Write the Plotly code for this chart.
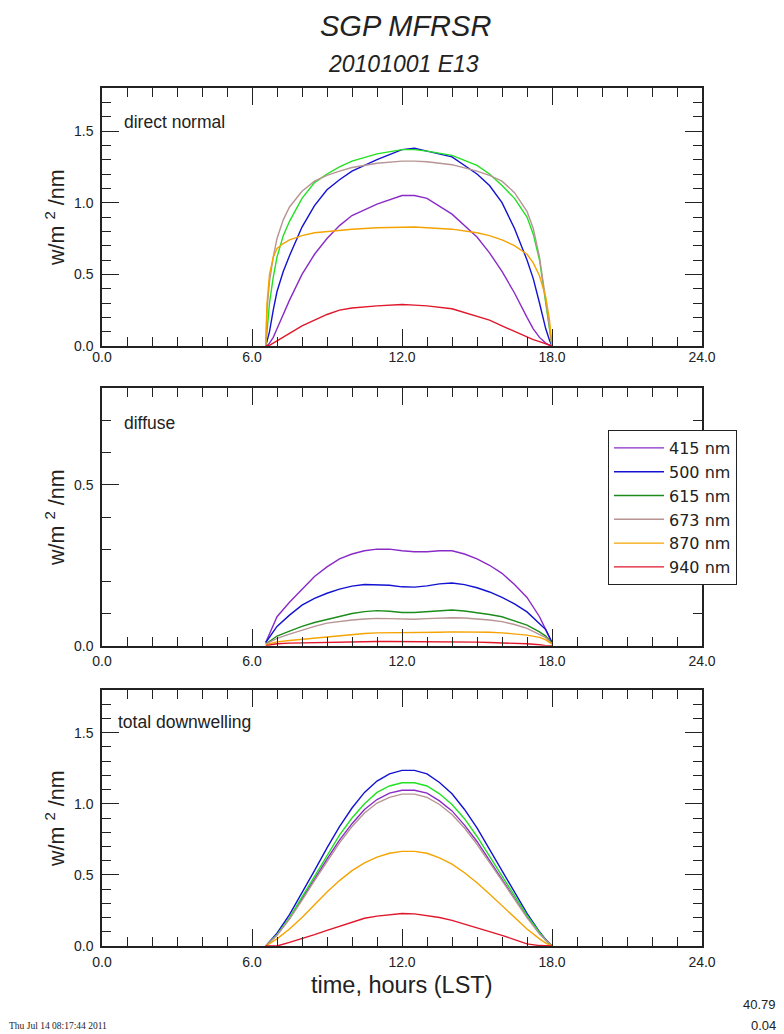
import plotly.graph_objects as go

W, H = 784, 1034

# ---------------- data ----------------
WAVELENGTHS = ["415 nm", "500 nm", "615 nm", "673 nm", "870 nm", "940 nm"]

# direct normal
T_DIRECT = [6.55, 6.6, 6.7, 6.85, 7.0, 7.25, 7.5, 8.0, 8.5, 9.0, 9.5, 10.0, 11.0, 12.0,
            12.5, 13.0, 14.0, 15.0, 15.5, 16.0, 16.5, 17.0, 17.25, 17.5, 17.75, 17.9, 18.0]
DIRECT_415 = [0, 0.0, 0.02, 0.06, 0.12, 0.22, 0.32, 0.50, 0.64, 0.75, 0.84, 0.91, 0.99, 1.05,
              1.05, 1.03, 0.92, 0.76, 0.65, 0.52, 0.37, 0.20, 0.12, 0.06, 0.02, 0.005, 0]
DIRECT_500 = [0, 0.03, 0.10, 0.25, 0.38, 0.52, 0.63, 0.83, 0.98, 1.09, 1.16, 1.22, 1.30, 1.37,
              1.38, 1.36, 1.32, 1.20, 1.12, 1.00, 0.82, 0.60, 0.47, 0.30, 0.12, 0.04, 0]
DIRECT_615 = [0, 0.12, 0.30, 0.48, 0.62, 0.77, 0.87, 1.03, 1.14, 1.20, 1.25, 1.29, 1.34, 1.37,
              1.37, 1.36, 1.33, 1.26, 1.20, 1.12, 1.03, 0.90, 0.78, 0.60, 0.32, 0.12, 0]
DIRECT_673 = [0, 0.25, 0.45, 0.62, 0.75, 0.88, 0.97, 1.08, 1.15, 1.19, 1.22, 1.245, 1.275, 1.29,
              1.29, 1.285, 1.265, 1.22, 1.19, 1.15, 1.07, 0.94, 0.82, 0.62, 0.32, 0.12, 0]
DIRECT_870 = [0, 0.30, 0.50, 0.62, 0.68, 0.715, 0.74, 0.77, 0.79, 0.80, 0.81, 0.815, 0.825, 0.83,
              0.83, 0.825, 0.815, 0.79, 0.77, 0.74, 0.70, 0.64, 0.58, 0.49, 0.34, 0.18, 0]
DIRECT_940 = [0, 0, 0.005, 0.02, 0.035, 0.06, 0.09, 0.14, 0.18, 0.22, 0.25, 0.265, 0.28, 0.29,
              0.285, 0.28, 0.26, 0.21, 0.18, 0.14, 0.10, 0.065, 0.045, 0.03, 0.015, 0.005, 0]

# diffuse
T_DIFFUSE = [6.55, 7.0, 7.5, 8.0, 8.5, 9.0, 9.5, 10.0, 10.5, 11.0, 11.5, 12.0, 12.5, 13.0,
             13.5, 14.0, 14.5, 15.0, 15.5, 16.0, 16.5, 17.0, 17.5, 17.75, 18.0]
DIFFUSE_415 = [0.01, 0.09, 0.135, 0.175, 0.215, 0.245, 0.27, 0.285, 0.295, 0.30, 0.30, 0.295, 0.292,
               0.292, 0.295, 0.295, 0.285, 0.27, 0.25, 0.225, 0.19, 0.15, 0.09, 0.05, 0.01]
DIFFUSE_500 = [0.01, 0.06, 0.095, 0.126, 0.147, 0.163, 0.176, 0.185, 0.19, 0.19, 0.188, 0.183, 0.182,
               0.186, 0.192, 0.195, 0.19, 0.18, 0.167, 0.15, 0.13, 0.105, 0.07, 0.05, 0.01]
DIFFUSE_615 = [0.005, 0.03, 0.045, 0.06, 0.072, 0.082, 0.092, 0.10, 0.106, 0.109, 0.107, 0.103, 0.103,
               0.106, 0.109, 0.111, 0.108, 0.103, 0.097, 0.09, 0.078, 0.064, 0.043, 0.03, 0.008]
DIFFUSE_673 = [0.005, 0.023, 0.036, 0.049, 0.06, 0.07, 0.076, 0.08, 0.083, 0.085, 0.084, 0.082, 0.082,
               0.084, 0.086, 0.087, 0.086, 0.084, 0.08, 0.075, 0.066, 0.054, 0.036, 0.025, 0.006]
DIFFUSE_870 = [0.003, 0.012, 0.016, 0.02, 0.024, 0.028, 0.032, 0.036, 0.038, 0.04, 0.04, 0.04, 0.04,
               0.041, 0.042, 0.043, 0.043, 0.043, 0.042, 0.04, 0.037, 0.033, 0.026, 0.018, 0.005]
DIFFUSE_940 = [0.0, 0.006, 0.008, 0.009, 0.010, 0.011, 0.012, 0.012, 0.013, 0.013, 0.013, 0.013, 0.013,
               0.013, 0.013, 0.012, 0.012, 0.011, 0.010, 0.009, 0.008, 0.006, 0.003, 0.0, 0.0]

# total downwelling
T_TOTAL = [6.55, 7.0, 7.5, 8.0, 8.5, 9.0, 9.5, 10.0, 10.5, 11.0, 11.5, 12.0, 12.5, 13.0,
           13.5, 14.0, 14.5, 15.0, 15.5, 16.0, 16.5, 17.0, 17.5, 17.75, 18.0]
TOTAL_415 = [0, 0.08, 0.195, 0.33, 0.47, 0.61, 0.745, 0.86, 0.96, 1.03, 1.075, 1.095, 1.095,
             1.075, 1.02, 0.95, 0.85, 0.735, 0.60, 0.47, 0.335, 0.205, 0.09, 0.04, 0]
TOTAL_500 = [0, 0.09, 0.22, 0.37, 0.53, 0.69, 0.84, 0.97, 1.08, 1.16, 1.21, 1.235, 1.235,
             1.21, 1.15, 1.07, 0.96, 0.83, 0.68, 0.53, 0.38, 0.23, 0.10, 0.045, 0]
TOTAL_615 = [0, 0.08, 0.20, 0.345, 0.49, 0.64, 0.78, 0.90, 1.00, 1.08, 1.125, 1.148, 1.148,
             1.125, 1.07, 0.995, 0.895, 0.77, 0.63, 0.49, 0.355, 0.215, 0.095, 0.04, 0]
TOTAL_673 = [0, 0.075, 0.19, 0.32, 0.46, 0.595, 0.725, 0.84, 0.935, 1.005, 1.045, 1.068, 1.068,
             1.045, 0.995, 0.925, 0.83, 0.715, 0.59, 0.46, 0.33, 0.20, 0.085, 0.04, 0]
TOTAL_870 = [0, 0.05, 0.12, 0.20, 0.29, 0.38, 0.46, 0.53, 0.585, 0.625, 0.652, 0.665, 0.665,
             0.652, 0.62, 0.575, 0.515, 0.445, 0.365, 0.285, 0.20, 0.12, 0.05, 0.02, 0]
TOTAL_940 = [0, 0.0, 0.025, 0.05, 0.08, 0.11, 0.14, 0.17, 0.195, 0.21, 0.222, 0.229, 0.226,
             0.215, 0.20, 0.18, 0.155, 0.13, 0.10, 0.075, 0.045, 0.015, 0.003, 0, 0]

X_TICK_STEP = 6
X_RANGE = [0, 24]
Y_RANGE_DIRECT = [0, 1.8]
Y_RANGE_DIFFUSE = [0, 0.8]
Y_RANGE_TOTAL = [0, 1.8]

# ---------------- styling ----------------
FONT = "Liberation Sans, Arial, Helvetica, sans-serif"
LEGEND_FONT = "DejaVu Sans, Liberation Sans, sans-serif"
INK = "#222222"
COL_415 = "#8a2bc8"
COL_500 = "#1212d0"
COL_615_BRIGHT = "#22e022"
COL_615_DARK = "#1c8c1c"
COL_673 = "#b89494"
COL_870 = "#f5a300"
COL_940 = "#e0162a"

panels = [
    (T_DIRECT, [DIRECT_415, DIRECT_500, DIRECT_615, DIRECT_673, DIRECT_870, DIRECT_940],
     [COL_415, COL_500, COL_615_BRIGHT, COL_673, COL_870, COL_940], "x", "y", False),
    (T_DIFFUSE, [DIFFUSE_415, DIFFUSE_500, DIFFUSE_615, DIFFUSE_673, DIFFUSE_870, DIFFUSE_940],
     [COL_415, COL_500, COL_615_DARK, COL_673, COL_870, COL_940], "x2", "y2", True),
    (T_TOTAL, [TOTAL_415, TOTAL_500, TOTAL_615, TOTAL_673, TOTAL_870, TOTAL_940],
     [COL_415, COL_500, COL_615_BRIGHT, COL_673, COL_870, COL_940], "x3", "y3", False),
]

fig = go.Figure()
for t, series, cols, xa, ya, show in panels:
    for name, vals, c in zip(WAVELENGTHS, series, cols):
        fig.add_trace(go.Scatter(x=t, y=vals, mode="lines", name=name, xaxis=xa, yaxis=ya,
                                 line=dict(color=c, width=1.4), showlegend=show,
                                 hoverinfo="skip"))


def px_x(p):
    return p / W


def px_y(p):
    return 1 - p / H


X_DOMAIN = [px_x(102), px_x(702)]
DOMAINS_Y = [[px_y(346), px_y(88)], [px_y(645.7), px_y(388.3)], [px_y(946), px_y(690)]]


def xaxis(domain_y_anchor, standoff):
    return dict(domain=X_DOMAIN, anchor=domain_y_anchor, range=X_RANGE, tick0=0, dtick=X_TICK_STEP,
                ticks="inside", ticklen=17, tickwidth=1.3, tickcolor=INK,
                showline=True, linecolor=INK, linewidth=1.5, mirror="ticks",
                showgrid=False, zeroline=False, tickformat=".1f",
                tickfont=dict(family=FONT, size=14, color=INK),
                ticklabelstandoff=standoff,
                minor=dict(ticks="inside", ticklen=9, dtick=1, tick0=0, tickcolor=INK,
                           tickwidth=1.3, showgrid=False),
                fixedrange=True)


def yaxis(domain, anchor, rng):
    return dict(domain=domain, anchor=anchor, range=rng, tick0=0, dtick=0.5,
                ticks="inside", ticklen=17, tickwidth=1.3, tickcolor=INK,
                showline=True, linecolor=INK, linewidth=1.5, mirror="ticks",
                showgrid=False, zeroline=False, tickformat=".1f",
                tickfont=dict(family=FONT, size=14, color=INK),
                ticklabelstandoff=4,
                minor=dict(ticks="inside", ticklen=9, dtick=0.1, tick0=0, tickcolor=INK,
                           tickwidth=1.3, showgrid=False),
                fixedrange=True)


annotations = []


def add_text(text, x, y, size, xanchor="center", yanchor="middle", angle=0, family=FONT):
    annotations.append(dict(text=text, x=px_x(x), y=px_y(y), xref="paper", yref="paper",
                            xanchor=xanchor, yanchor=yanchor, showarrow=False, textangle=angle,
                            font=dict(family=family, size=size, color=INK)))


add_text("<i>SGP MFRSR</i>", 405, 26, 29)
add_text("<i>20101001 E13</i>", 404, 64, 23)
add_text("direct normal", 122, 122, 17.5, xanchor="left")
add_text("diffuse", 122, 423, 17.5, xanchor="left")
add_text("total downwelling", 116, 722, 17.5, xanchor="left")
for top, bot in [(88, 346), (388.3, 645.7), (690, 946)]:
    add_text("w/m <sup>2</sup> /nm", 55, (top + bot) / 2, 21.5, angle=-90)
add_text("time, hours (LST)", 402, 985, 23.5)
add_text("Thu Jul 14 08:17:44 2011", 7, 1026, 9.5, xanchor="left",
         family="Liberation Serif, Times New Roman, serif")
add_text("40.79", 778, 1004, 13, xanchor="right")
add_text("0.04", 778, 1025, 13, xanchor="right")

fig.update_layout(
    width=W, height=H,
    margin=dict(l=0, r=0, t=0, b=0, autoexpand=False),
    paper_bgcolor="white", plot_bgcolor="white",
    font=dict(family=FONT, color=INK),
    xaxis=xaxis("y", -3),
    xaxis2=xaxis("y2", 2),
    xaxis3=xaxis("y3", 2),
    yaxis=yaxis(DOMAINS_Y[0], "x", Y_RANGE_DIRECT),
    yaxis2=yaxis(DOMAINS_Y[1], "x2", Y_RANGE_DIFFUSE),
    yaxis3=yaxis(DOMAINS_Y[2], "x3", Y_RANGE_TOTAL),
    legend=dict(x=px_x(608), y=px_y(430), xanchor="left", yanchor="top",
                bgcolor="white", bordercolor=INK, borderwidth=1,
                font=dict(family=LEGEND_FONT, size=16, color=INK), itemwidth=50,
                tracegroupgap=0),
    annotations=annotations,
    showlegend=True,
)

fig.write_html("out.html", config={"displayModeBar": False},
               post_script="document.body.style.margin='0px';")
